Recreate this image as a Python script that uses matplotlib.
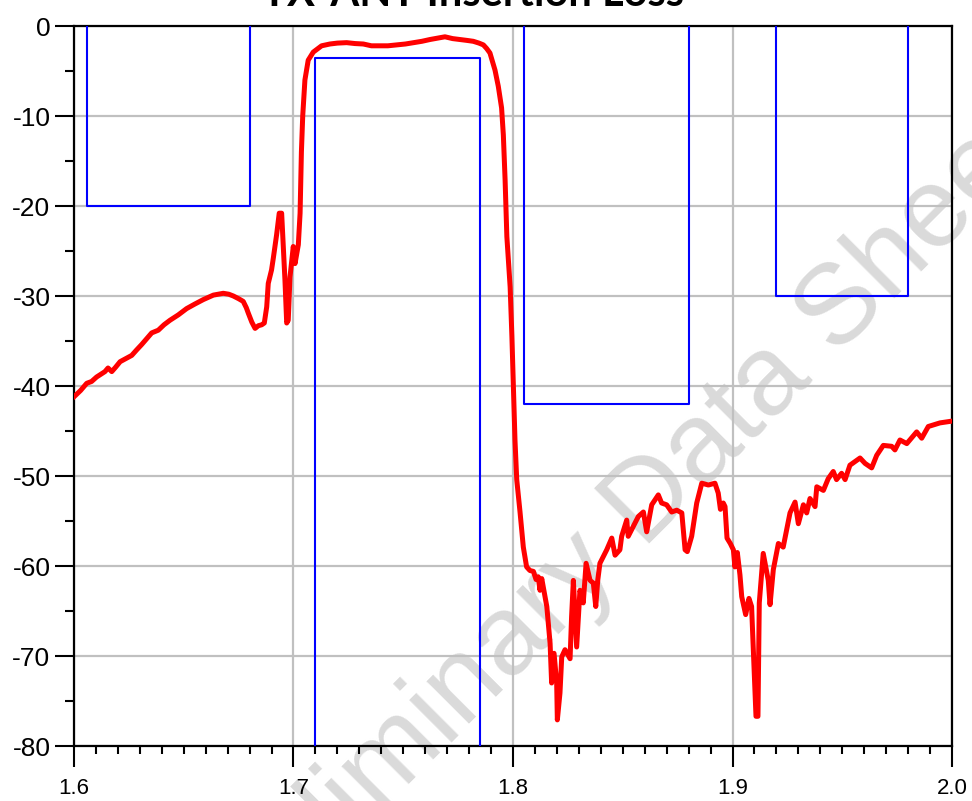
import matplotlib
matplotlib.use("Agg")
import matplotlib.pyplot as plt
from matplotlib.ticker import MultipleLocator

plt.rcParams['font.family'] = ['Liberation Sans', 'DejaVu Sans']
plt.rcParams['axes.unicode_minus'] = False

freq = [1.6000, 1.6030, 1.6058, 1.6080, 1.6103, 1.6141, 1.6155, 1.6172, 1.6190, 1.6210,
        1.6263, 1.6285, 1.6308, 1.6354, 1.6384, 1.6410, 1.6437, 1.6475, 1.6513, 1.6550,
        1.6589, 1.6635, 1.6680, 1.6705, 1.6726, 1.6750, 1.6771, 1.6785, 1.6794, 1.6810,
        1.6825, 1.6840, 1.6855, 1.6867, 1.6878, 1.6885, 1.6900, 1.6908, 1.6923, 1.6935,
        1.6946, 1.6961, 1.6969, 1.6976, 1.6984, 1.6999, 1.7007, 1.7022, 1.7030, 1.7036,
        1.7042, 1.7052, 1.7067, 1.7090, 1.7128, 1.7166, 1.7200, 1.7242, 1.7280, 1.7318,
        1.7355, 1.7394, 1.7430, 1.7470, 1.7510, 1.7546, 1.7585, 1.7622, 1.7655, 1.7690,
        1.7725, 1.7759, 1.7790, 1.7819, 1.7845, 1.7865, 1.7880, 1.7895, 1.7918, 1.7933,
        1.7948, 1.7956, 1.7964, 1.7972, 1.7987, 1.7995, 1.8002, 1.8009, 1.8017, 1.8032,
        1.8047, 1.8062, 1.8077, 1.8093, 1.8105, 1.8115, 1.8123, 1.8131, 1.8154, 1.8169,
        1.8176, 1.8187, 1.8199, 1.8202, 1.8214, 1.8222, 1.8237, 1.8260, 1.8267, 1.8275,
        1.8290, 1.8305, 1.8320, 1.8333, 1.8351, 1.8366, 1.8377, 1.8386, 1.8396, 1.8427,
        1.8450, 1.8465, 1.8487, 1.8495, 1.8518, 1.8525, 1.8548, 1.8571, 1.8594, 1.8609,
        1.8632, 1.8662, 1.8677, 1.8700, 1.8723, 1.8746, 1.8769, 1.8784, 1.8794, 1.8814,
        1.8837, 1.8860, 1.8890, 1.8920, 1.8935, 1.8945, 1.8958, 1.8966, 1.8975, 1.8990,
        1.9004, 1.9011, 1.9022, 1.9034, 1.9042, 1.9060, 1.9075, 1.9087, 1.9098, 1.9107,
        1.9116, 1.9122, 1.9140, 1.9163, 1.9171, 1.9186, 1.9209, 1.9231, 1.9262, 1.9285,
        1.9300, 1.9323, 1.9338, 1.9353, 1.9376, 1.9384, 1.9414, 1.9436, 1.9459, 1.9474,
        1.9497, 1.9513, 1.9535, 1.9581, 1.9604, 1.9634, 1.9657, 1.9687, 1.9725, 1.9740,
        1.9763, 1.9794, 1.9839, 1.9862, 1.9892, 1.9945, 2.0000]
loss = [-41.2, -40.5, -39.7, -39.5, -39.0, -38.4, -38.0, -38.4, -37.9, -37.3,
        -36.6, -36.0, -35.4, -34.1, -33.8, -33.2, -32.7, -32.1, -31.4, -30.9,
        -30.4, -29.9, -29.7, -29.8, -30.0, -30.3, -30.6, -31.3, -31.9, -32.9,
        -33.6, -33.3, -33.2, -33.0, -31.2, -28.6, -27.1, -25.8, -23.2, -20.8,
        -20.8, -28.2, -33.0, -32.7, -27.9, -24.5, -26.4, -24.3, -20.8, -14.0,
        -10.0, -6.0, -3.8, -2.9, -2.2, -2.0, -1.9, -1.85, -1.95, -2.0,
        -2.2, -2.2, -2.2, -2.1, -2.0, -1.85, -1.7, -1.5, -1.35, -1.2,
        -1.4, -1.5, -1.6, -1.7, -1.9, -2.1, -2.5, -3.0, -4.9, -6.7,
        -9.1, -12.1, -17.1, -23.4, -29.0, -34.5, -40.1, -46.0, -50.4, -54.0,
        -57.9, -60.1, -60.5, -60.6, -61.5, -61.2, -62.7, -61.4, -64.5, -68.6,
        -73.0, -69.7, -73.0, -77.1, -74.1, -70.1, -69.3, -70.3, -65.6, -61.6,
        -69.0, -62.7, -64.1, -59.7, -61.6, -61.9, -64.5, -61.6, -59.7, -58.2,
        -56.9, -58.8, -58.2, -56.7, -54.9, -56.7, -55.6, -54.5, -54.0, -56.2,
        -53.2, -52.1, -53.0, -53.2, -54.0, -53.8, -54.1, -58.2, -58.4, -56.7,
        -53.0, -50.8, -51.0, -50.8, -51.9, -53.7, -53.0, -53.4, -56.9, -57.5,
        -58.2, -60.1, -58.5, -61.0, -63.4, -65.4, -63.6, -64.5, -71.2, -76.7,
        -76.7, -64.1, -58.6, -61.6, -64.3, -60.4, -57.5, -57.9, -54.1, -52.9,
        -55.3, -53.2, -54.1, -52.5, -53.4, -51.2, -51.6, -50.3, -49.5, -50.4,
        -49.7, -50.4, -48.8, -48.0, -48.6, -49.1, -47.7, -46.6, -46.7, -47.1,
        -46.0, -46.4, -45.1, -45.8, -44.5, -44.1, -43.9]

# Spec mask (blue): lower-band reject, passband, RX reject, upper reject
mask_rej1_f = [1.606, 1.606, 1.680, 1.680]
mask_rej1_db = [0, -20, -20, 0]
mask_pass_f = [1.710, 1.710, 1.785, 1.785]
mask_pass_db = [-80, -3.6, -3.6, -80]
mask_rx_f = [1.805, 1.805, 1.880, 1.880]
mask_rx_db = [0, -42, -42, 0]
mask_rej2_f = [1.920, 1.920, 1.980, 1.980]
mask_rej2_db = [0, -30, -30, 0]

x_ticks = [1.6, 1.7, 1.8, 1.9, 2.0]
x_labels = ["1.6", "1.7", "1.8", "1.9", "2.0"]
y_ticks = [0, -10, -20, -30, -40, -50, -60, -70, -80]

fig = plt.figure(figsize=(9.72, 8.01), dpi=100)
ax = fig.add_axes([74 / 972, 1 - 746 / 801, 878 / 972, 720 / 801])

ax.grid(True, which='major', color='#c0c0c0', linewidth=1.6, zorder=0)
ax.set_axisbelow(True)

# watermark behind the axes, runs off the bottom and right edges like the reference
fig.text(612 / 972, 1 - 540 / 801, "Preliminary Data Sheet",
         fontsize=82, color='#dadada', rotation=45, ha='center', va='center',
         rotation_mode='anchor', zorder=-1)

for mf, md in [(mask_rej1_f, mask_rej1_db), (mask_pass_f, mask_pass_db),
               (mask_rx_f, mask_rx_db), (mask_rej2_f, mask_rej2_db)]:
    ax.plot(mf, md, color='#0000ff', linewidth=1.5, zorder=3)

ax.plot(freq, loss, color='#ff0000', linewidth=3.6, zorder=4)

ax.set_xlim(1.6, 2.0)
ax.set_ylim(-80, 0)
ax.set_xticks(x_ticks)
ax.set_xticklabels(x_labels)
ax.set_yticks(y_ticks)
ax.set_yticklabels([str(v) for v in y_ticks])
ax.xaxis.set_minor_locator(MultipleLocator(0.01))
ax.yaxis.set_minor_locator(MultipleLocator(5))

ax.tick_params(axis='x', which='major', length=15, width=1.5, labelsize=16, pad=8)
ax.tick_params(axis='x', which='minor', length=6, width=1.5)
ax.tick_params(axis='y', which='major', length=14, width=1.5, labelsize=19, pad=3)
ax.tick_params(axis='y', which='minor', length=6.5, width=1.5)

for side in ['left', 'right', 'top', 'bottom']:
    ax.spines[side].set_linewidth(1.6)
    ax.spines[side].set_color('black')

# axes patch is transparent so the figure-level watermark shows through
ax.patch.set_alpha(0)

# title sits mostly above the canvas edge, as in the reference
fig.text(0.487, 1 - 6 / 801, "TX-ANT Insertion Loss", ha='center', va='baseline',
         fontsize=30, fontweight='bold', family=['Lato', 'DejaVu Sans'])

fig.savefig("out.png", dpi=100)
